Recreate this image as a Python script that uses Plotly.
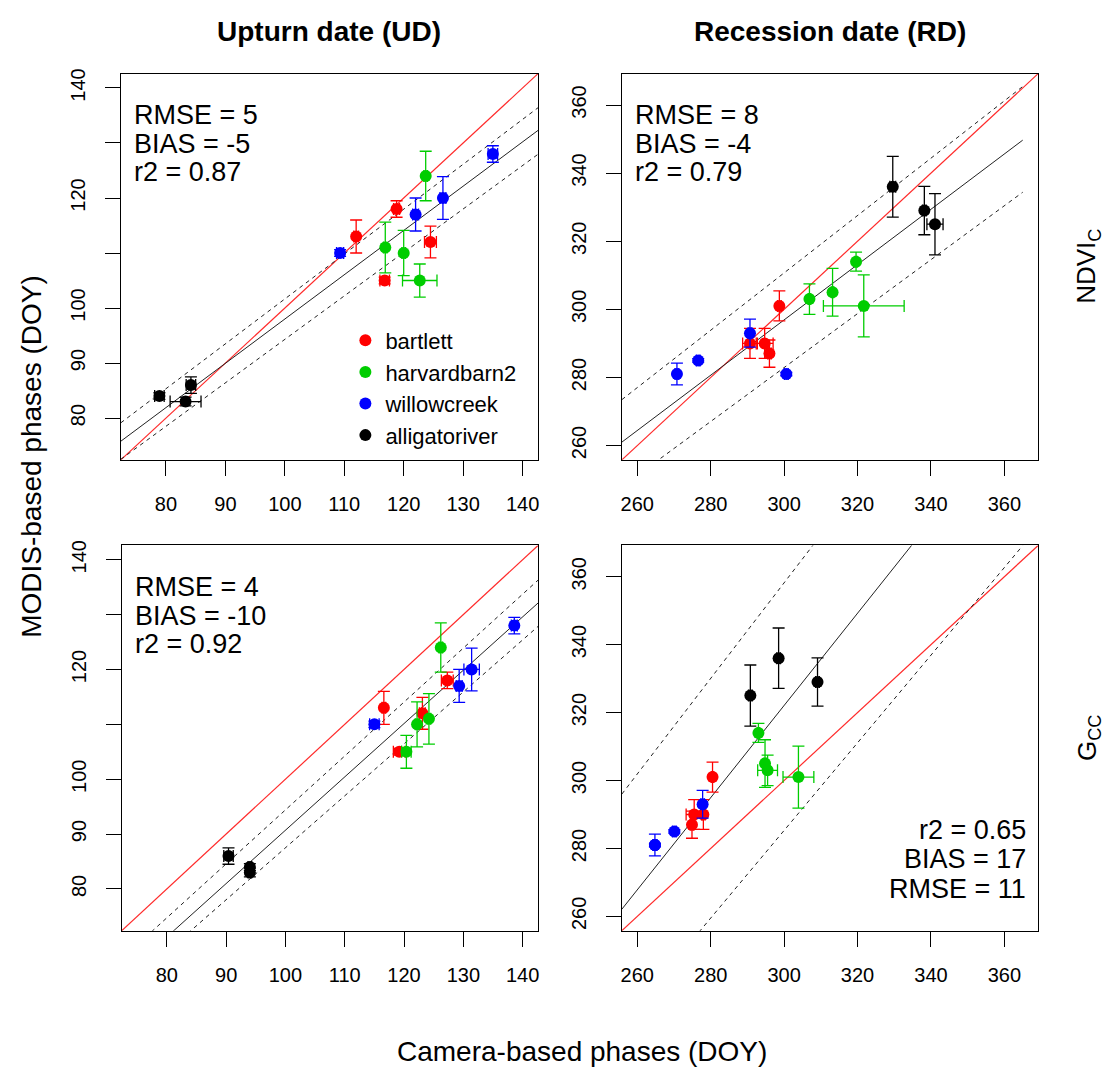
import plotly.graph_objects as go

W, H = 1108, 1067
FONT = "Liberation Sans, Arial, Helvetica, sans-serif"

# ---- sites -------------------------------------------------------------
sites = ["bartlett", "harvardbarn2", "willowcreek", "alligatoriver"]
site_colors = ["#FF0000", "#00CD00", "#0000FF", "#000000"]

# ---- MODIS-based phases (DOY), one list per site, same order as `sites`
modis_ud = [[113, 118, 112, 105], [124, 111, 110, 105], [110, 117, 120, 128], [84, 83, 86]]
modis_ud_err = [[3.0, 1.5, 2.9, 0.6], [4.5, 4.6, 4.1, 3.0], [0.6, 3.0, 3.9, 1.5], [0.6, 0.8, 1.5]]
modis_rd = [[301, 290, 290, 287], [303, 305, 314, 301], [281, 285, 293, 281], [336, 329, 325]]
modis_rd_err = [[4.4, 4.4, 4.4, 4.0], [4.5, 7.0, 2.8, 9.1], [3.2, 0.5, 4.1, 0.5], [8.9, 7.1, 9.0]]

# ---- camera-based phases (DOY) per index
cam_ud_ndvi = [[112.0, 118.8, 124.5, 116.8], [123.7, 116.9, 120.0, 122.7],
               [109.3, 122.0, 126.6, 135.0], [78.9, 83.3, 84.2]]
cam_ud_ndvi_err = [[0.4, 0.5, 1.0, 0.8], [0.3, 0.3, 0.3, 2.9], [0.6, 0.5, 0.5, 0.8], [0.8, 2.6, 0.8]]
cam_ud_gcc = [[116.6, 127.3, 123.1, 119.2], [126.2, 124.2, 122.2, 120.4],
              [115.0, 129.3, 131.4, 138.6], [94.0, 94.0, 90.4]]
cam_ud_gcc_err = [[0.3, 1.0, 0.5, 1.0], [0.3, 0.3, 0.3, 0.8], [0.8, 0.5, 1.3, 0.5], [0.3, 0.3, 0.8]]
cam_rd_ndvi = [[298.7, 290.7, 294.7, 296.0], [306.9, 313.2, 319.6, 321.7],
               [270.8, 276.6, 290.7, 300.6], [329.6, 338.2, 341.1]]
cam_rd_ndvi_err = [[0.5, 2.0, 2.3, 0.5], [0.3, 0.3, 0.3, 11.0], [0.5, 0.5, 0.5, 0.5], [0.8, 0.5, 2.2]]
cam_rd_gcc = [[280.5, 275.5, 278.0, 274.9], [295.5, 294.8, 293.0, 303.9],
              [264.8, 270.1, 277.8, 264.8], [298.5, 309.1, 290.8]]
cam_rd_gcc_err = [[0.3, 2.2, 0.5, 0.5], [2.7, 0.3, 0.3, 4.2], [0.5, 0.5, 0.5, 0.5], [0.5, 0.5, 0.5]]

# ---- regression line and its dashed band: (intercept, slope) for fit, upper, lower
lines_ud_ndvi = [(17.5, 0.805), (20.05, 0.816), (15.3, 0.79)]
lines_rd_ndvi = [(53.3, 0.812), (58.1, 0.842), (45.3, 0.792)]
lines_ud_gcc = [(-6.5, 0.972), (-3.9, 0.983), (-7.2, 0.947)]
lines_rd_gcc = [(-85.0, 1.357), (-63.9, 1.407), (-101.7, 1.29)]

# ---- agreement statistics
stats_ud_ndvi = ["RMSE = 5", "BIAS = -5", "r2 = 0.87"]
stats_rd_ndvi = ["RMSE = 8", "BIAS = -4", "r2 = 0.79"]
stats_ud_gcc = ["RMSE = 4", "BIAS = -10", "r2 = 0.92"]
stats_rd_gcc = ["r2 = 0.65", "BIAS = 17", "RMSE = 11"]

# ---- axes
ud_range = [72.4, 142.6]
rd_range = [255.8, 369.2]
ud_ticks = [80, 90, 100, 110, 120, 130, 140]
ud_ylabel_ticks = [80, 90, 100, 120, 140]      # labelled y ticks
ud_yminor_ticks = [110, 130]                   # unlabelled y ticks
rd_ticks = [260, 280, 300, 320, 340, 360]
rd_line_end = 365

col_titles = ["Upturn date (UD)", "Recession date (RD)"]
row_titles = ["NDVI<sub>C</sub>", "G<sub>CC</sub>"]
x_title = "Camera-based phases (DOY)"
y_title = "MODIS-based phases (DOY)"

# panel boxes in pixels: left, right, top, bottom
boxes = [(120, 538, 69, 457), (622, 1039, 69, 457), (121, 538, 543, 930), (622, 1039, 543, 930)]

panels = [
    dict(cam=cam_ud_ndvi, cam_err=cam_ud_ndvi_err, modis=modis_ud, modis_err=modis_ud_err,
         lines=lines_ud_ndvi, rng=ud_range, span=[ud_range[0], ud_range[1]], stats=stats_ud_ndvi,
         xticks=ud_ticks, yticks=ud_ylabel_ticks, yminor=ud_yminor_ticks),
    dict(cam=cam_rd_ndvi, cam_err=cam_rd_ndvi_err, modis=modis_rd, modis_err=modis_rd_err,
         lines=lines_rd_ndvi, rng=rd_range, span=[rd_range[0], rd_line_end], stats=stats_rd_ndvi,
         xticks=rd_ticks, yticks=rd_ticks, yminor=[]),
    dict(cam=cam_ud_gcc, cam_err=cam_ud_gcc_err, modis=modis_ud, modis_err=modis_ud_err,
         lines=lines_ud_gcc, rng=ud_range, span=[ud_range[0], ud_range[1]], stats=stats_ud_gcc,
         xticks=ud_ticks, yticks=ud_ylabel_ticks, yminor=ud_yminor_ticks),
    dict(cam=cam_rd_gcc, cam_err=cam_rd_gcc_err, modis=modis_rd, modis_err=modis_rd_err,
         lines=lines_rd_gcc, rng=rd_range, span=[rd_range[0], rd_line_end], stats=stats_rd_gcc,
         xticks=rd_ticks, yticks=rd_ticks, yminor=[]),
]


def px_x(v):
    return v / W


def px_y(v):
    return 1 - v / H


fig = go.Figure()
layout = dict(width=W, height=H, margin=dict(l=0, r=0, t=0, b=0), autosize=False,
              paper_bgcolor="white", plot_bgcolor="white",
              font=dict(family=FONT, color="black"), annotations=[])

for i, p in enumerate(panels):
    n = "" if i == 0 else str(i + 1)
    xa, ya = "x" + n, "y" + n
    left, right, top, bottom = boxes[i]
    axis_common = dict(showline=True, mirror=True, linecolor="black", linewidth=1,
                       ticks="outside", ticklen=15, tickwidth=1, tickcolor="black",
                       showgrid=False, zeroline=False, range=p["rng"],
                       tickfont=dict(family=FONT, size=20, color="black"))
    layout["xaxis" + n] = dict(axis_common, domain=[px_x(left), px_x(right)], anchor=ya,
                               tickvals=p["xticks"], ticklabelstandoff=11)
    yax = dict(axis_common, domain=[px_y(bottom), px_y(top)], anchor=xa,
               tickvals=p["yticks"], tickangle=-90, ticklabelstandoff=12)
    if p["yminor"]:
        yax["minor"] = dict(tickvals=p["yminor"], ticks="outside", ticklen=15,
                            tickwidth=1, tickcolor="black", showgrid=False)
    layout["yaxis" + n] = yax

    # 1:1 line
    fig.add_trace(go.Scatter(x=p["rng"], y=p["rng"], mode="lines", xaxis=xa, yaxis=ya,
                             line=dict(color="#FF2A2A", width=1.2), showlegend=False,
                             hoverinfo="skip"))
    # regression line and dashed band
    xs = p["span"]
    for k, (a, b) in enumerate(p["lines"]):
        fig.add_trace(go.Scatter(x=xs, y=[a + b * xs[0], a + b * xs[1]], mode="lines",
                                 xaxis=xa, yaxis=ya, showlegend=False, hoverinfo="skip",
                                 line=dict(color="#222222", width=1,
                                           dash="solid" if k == 0 else "4px,4px")))
    # site points with uncertainty bars
    for s, name in enumerate(sites):
        col = site_colors[s]
        fig.add_trace(go.Scatter(
            x=p["cam"][s], y=p["modis"][s], mode="markers", name=name,
            xaxis=xa, yaxis=ya, legendgroup=name, showlegend=(i == 0),
            marker=dict(color=col, size=12, line=dict(width=0)),
            error_x=dict(type="data", array=p["cam_err"][s], color=col, thickness=1.3, width=6),
            error_y=dict(type="data", array=p["modis_err"][s], color=col, thickness=1.3, width=6),
        ))

    # statistics text
    if i < 3:
        xs_px = left + 11
        base = top + 51
        for j, t in enumerate(p["stats"]):
            layout["annotations"].append(dict(
                text=t, xref="paper", yref="paper", x=px_x(xs_px), y=px_y(base - 9 + j * 28.5),
                xanchor="left", yanchor="middle", showarrow=False,
                font=dict(family=FONT, size=27, color="black")))
    else:
        for j, t in enumerate(p["stats"]):
            layout["annotations"].append(dict(
                text=t, xref="paper", yref="paper", x=px_x(right - 10), y=px_y(838 - 9 + j * 29.5),
                xanchor="right", yanchor="middle", showarrow=False,
                font=dict(family=FONT, size=27, color="black")))

# column titles
for c, t in enumerate(col_titles):
    left, right, _, _ = boxes[c]
    layout["annotations"].append(dict(
        text="<b>" + t + "</b>", xref="paper", yref="paper", x=px_x((left + right) / 2), y=px_y(27),
        xanchor="center", yanchor="middle", showarrow=False,
        font=dict(family=FONT, size=28, color="black")))

# row labels
for r, t in enumerate(row_titles):
    _, _, top, bottom = boxes[2 * r + 1]
    layout["annotations"].append(dict(
        text=t, xref="paper", yref="paper", x=px_x(1089), y=px_y((top + bottom) / 2),
        xanchor="center", yanchor="middle", textangle=-90, showarrow=False,
        font=dict(family=FONT, size=26, color="black")))

# shared axis titles
layout["annotations"].append(dict(
    text=x_title, xref="paper", yref="paper", x=px_x(582), y=px_y(1051),
    xanchor="center", yanchor="middle", showarrow=False,
    font=dict(family=FONT, size=28, color="black")))
layout["annotations"].append(dict(
    text=y_title, xref="paper", yref="paper", x=px_x(31), y=px_y(453),
    xanchor="center", yanchor="middle", textangle=-90, showarrow=False,
    font=dict(family=FONT, size=28, color="black")))

layout["legend"] = dict(x=px_x(345), y=px_y(316), xanchor="left", yanchor="top",
                        bgcolor="rgba(0,0,0,0)", borderwidth=0, tracegroupgap=0,
                        itemsizing="trace", font=dict(family=FONT, size=22, color="black"))

fig.update_layout(**layout)
fig.write_html("out.html")
